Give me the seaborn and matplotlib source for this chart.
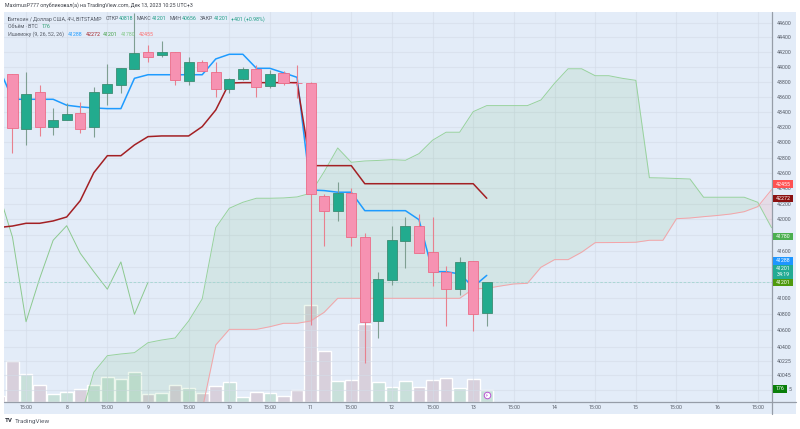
import numpy as np
import pandas as pd
import matplotlib
matplotlib.use('Agg')
import matplotlib.pyplot as plt
from matplotlib.lines import Line2D
from matplotlib.patches import Rectangle
from matplotlib.ticker import NullLocator
import seaborn as sns

# candles, 4h bars, index 0 is the first full one on screen
opens = [43902, 43180, 43663, 43207, 43291, 43384, 43199, 43657, 43764, 43977, 44207, 44163,
         44199, 43817, 44063, 43933, 43703, 43836, 43977, 43746, 43916, 43791, 43782, 42302,
         42104, 42337, 41780, 40720, 41234, 41728, 41915, 41581, 41335, 41121, 41474, 40818]
highs = [43902, 43933, 43760, 43458, 43524, 43537, 43729, 44037, 43990, 44733, 44298, 44355,
         44199, 44140, 44095, 44072, 43849, 44004, 44028, 43960, 43947, 44028, 43800, 42321,
         42487, 42405, 41830, 41335, 41915, 42027, 42069, 42035, 41404, 41525, 41474, 41201]
lows = [42857, 42966, 43084, 43097, 43291, 43128, 43075, 43494, 43657, 43969, 44063, 44136,
        43760, 43760, 43942, 43604, 43657, 43826, 43600, 43720, 43760, 43583, 40667, 41661,
        41980, 41661, 40195, 40510, 41167, 41378, 41568, 41158, 40658, 41046, 40597, 40656]
closes = [43186, 43644, 43199, 43291, 43375, 43173, 43663, 43769, 43983, 44186, 44140, 44199,
          43826, 44063, 43942, 43711, 43836, 43969, 43737, 43906, 43791, 43782, 42324, 42112,
          42337, 41772, 40708, 41247, 41733, 41919, 41568, 41335, 41114, 41458, 40800, 41201]

# volume starts one bar before the first candle (BTC)
volume = [85, 578, 390, 240, 108, 141, 179, 240, 357, 324, 427, 117, 131, 235, 202, 131, 226, 286,
          70, 141, 123, 85, 173, 1368, 719, 296, 314, 1100, 278, 212, 296, 212, 310, 338, 197, 324, 176]

# ichimoku lines, tenkan / kijun / chikou start at bar -1, the cloud at bar 5
tenkan = [43991, 43569, 43569, 43569, 43569, 43490, 43468, 43454, 43445, 43445, 43849, 43897, 43897,
          43897, 43897, 43897, 44109, 44172, 44172, 43983, 43983, 43923, 43862, 42380, 42371, 42350,
          42350, 42112, 42112, 42112, 42112, 41996, 41335, 41335, 41306, 41143, 41288]
kijun = [41896, 41915, 41950, 41950, 41980, 42031, 42241, 42603, 42825, 42825, 42966, 43075, 43084,
         43084, 43084, 43207, 43427, 43786, 43791, 43791, 43791, 43791, 43791, 42695, 42695, 42695,
         42695, 42460, 42460, 42460, 42460, 42460, 42460, 42460, 42460, 42460, 42272]
chikou = [42337, 41772, 40708, 41247, 41733, 41919, 41568, 41335, 41114, 41458, 40800, 41201]
senkou_a = [39520, 40085, 40288, 40309, 40325, 40448, 40481, 40506, 40717, 40992, 41894, 42143, 42220,
            42272, 42272, 42276, 42289, 42337, 42616, 42926, 42739, 42756, 42763, 42773, 42765, 42852,
            43028, 43133, 43133, 43405, 43485, 43485, 43485, 43485, 43560, 43782, 43977, 43977, 43884,
            43884, 43849, 43822, 42538, 42534, 42528, 42521, 42285, 42285, 42285, 42285, 42220, 41899, 41780]
senkou_b = [39500, 39500, 39500, 39500, 39500, 39500, 39500, 39500, 39500, 39628, 40420, 40613, 40613,
            40613, 40646, 40688, 40688, 40717, 40825, 41000, 41000, 41000, 41000, 41000, 41000, 41000,
            41000, 41000, 41000, 41117, 41125, 41154, 41180, 41188, 41391, 41487, 41487, 41581, 41703,
            41704, 41705, 41708, 41733, 41733, 42009, 42018, 42035, 42050, 42069, 42099, 42164, 42379, 42455]

price_ticks = [44600, 44400, 44200, 44000, 43800, 43600, 43400, 43200, 43000, 42800, 42600, 42400, 42200,
               42000, 41800, 41600, 41400, 41200, 41000, 40800, 40600, 40400, 40225, 40045, 39865]
# 41800, 41400, 41200 and 39865 sit under the price tags
hidden_ticks = [41800, 41400, 41200, 39865]
time_labels = ['15:00', '8', '15:00', '9', '15:00', '10', '15:00', '11', '15:00', '12', '15:00', '13',
               '15:00', '14', '15:00', '15', '15:00', '16', '15:00']

sns.set_theme(style='white')
plt.rcParams['font.family'] = ['Roboto', 'DejaVu Sans']

W, H = 800, 429
BG = '#E3ECF8'
GRID = '#D4DCE8'
TXT = '#555B66'
UP, UP_EDGE, UP_WICK = '#22AB8E', '#3C8C73', '#7F9F92'
DOWN, DOWN_EDGE, DOWN_WICK = '#F692B2', '#EC6C88', '#E8808E'
FS = 3.8

fig = plt.figure(figsize=(8, 4.29), dpi=100, facecolor='white')


def px_x(x):
    return x / W


def px_y(y):
    return 1 - y / H


def txt(x, y, s, color=TXT, size=FS, ha='left', **kw):
    fig.text(px_x(x), px_y(y), s, color=color, fontsize=size, ha=ha, va='center', zorder=20, **kw)


def tag(y, s, color, x1=793, h=7.2):
    fig.add_artist(Rectangle((px_x(773), px_y(y + h / 2)), (x1 - 773) / W, h / H, transform=fig.transFigure,
                             facecolor=color, edgecolor='none', zorder=15))
    txt((773 + x1) / 2, y, s, color='white', ha='center')


# light blue panel behind everything
fig.add_artist(Rectangle((px_x(4), px_y(414)), 792 / W, 402 / H, transform=fig.transFigure,
                         facecolor=BG, edgecolor='none', zorder=-5))

pos = [px_x(4), px_y(402), 768 / W, 390 / H]
ax_vol = fig.add_axes(pos, facecolor='none', zorder=1)
ax = fig.add_axes(pos, facecolor='none', zorder=2)

idx = np.arange(len(opens))
xlim = (-0.627, 56.05)

# volume
vol_idx = np.arange(-1, len(volume) - 1)
vol_dir = ['down'] + ['up' if c >= o else 'down' for o, c in zip(opens, closes)]
vol_df = pd.DataFrame({'idx': vol_idx, 'volume': volume, 'dir': vol_dir})
sns.barplot(data=vol_df, x='idx', y='volume', hue='dir', palette={'up': '#C8E0DA', 'down': '#D8D0DC'},
            native_scale=True, dodge=False, width=0.94, saturation=1, legend=False, ax=ax_vol)
ax_vol.set_xlim(xlim)
ax_vol.set_ylim(0, 5500)
ax_vol.axis('off')

# price axes
ax.set_yscale('log')
ax.set_xlim(xlim)
ax.set_ylim(39722, 44746)
ax.yaxis.tick_right()
ax.set_yticks(price_ticks)
ax.set_yticklabels(['' if t in hidden_ticks else str(t) for t in price_ticks], fontsize=FS, color=TXT)
ax.yaxis.set_minor_locator(NullLocator())
ax.set_xticks(np.arange(1, 56, 3))
ax.set_xticklabels(time_labels, fontsize=FS, color=TXT)
ax.tick_params(axis='both', length=0)
ax.tick_params(axis='x', pad=2.2)
ax.tick_params(axis='y', pad=3.2)
ax.grid(True, color=GRID, linewidth=0.8, alpha=0.6)
ax.set_axisbelow(True)
ax.set_xlabel('')
for name, spine in ax.spines.items():
    spine.set_visible(False)

# cloud
cloud_idx = np.arange(5, 5 + len(senkou_a))
a = np.array(senkou_a, dtype=float)
b = np.array(senkou_b, dtype=float)
ax.fill_between(cloud_idx, a, b, where=a >= b, interpolate=True, color='#4CAF50', alpha=0.1, linewidth=0, zorder=2)
ax.fill_between(cloud_idx, a, b, where=a <= b, interpolate=True, color='#FF5252', alpha=0.1, linewidth=0, zorder=2)
sns.lineplot(x=cloud_idx, y=a, color='#98D29D', linewidth=0.7, ax=ax, zorder=3, errorbar=None)
sns.lineplot(x=cloud_idx, y=b, color='#F5A3A8', linewidth=0.7, ax=ax, zorder=3, errorbar=None)
sns.lineplot(x=np.arange(-1, len(chikou) - 1), y=chikou, color='#8CC98F', linewidth=0.7, ax=ax, zorder=3, errorbar=None)

# last price
ax.axhline(closes[-1], color='#A4D6D2', linewidth=0.6, linestyle=(0, (3, 2)), zorder=3)

line_idx = np.arange(-1, len(tenkan) - 1)
sns.lineplot(x=line_idx, y=tenkan, color='#1E9BFF', linewidth=1.1, ax=ax, zorder=4, errorbar=None)
sns.lineplot(x=line_idx, y=kijun, color='#A32024', linewidth=1.1, ax=ax, zorder=4, errorbar=None)

# candles
o = np.array(opens, dtype=float)
c = np.array(closes, dtype=float)
is_up = c >= o
ax.vlines(idx, lows, highs, colors=[UP_WICK if u else DOWN_WICK for u in is_up], linewidth=0.8, zorder=5)
ax.bar(idx, np.abs(c - o), bottom=np.minimum(o, c), width=0.74,
       color=[UP if u else DOWN for u in is_up],
       edgecolor=[UP_EDGE if u else DOWN_EDGE for u in is_up], linewidth=0.6, zorder=6)
ax.set_xlim(xlim)
ax.set_ylim(39722, 44746)

# lightning badge on the last bar
ax_vol.scatter([vol_idx[-1]], [95], s=22, facecolor='white', edgecolor='#BA55D3', linewidth=0.7, zorder=5, clip_on=False)
ax_vol.text(vol_idx[-1], 95, '\u26a1', fontsize=3.6, color='#BA55D3', ha='center', va='center', zorder=6,
            family='DejaVu Sans')

# axis lines
fig.add_artist(Line2D([px_x(772.3)] * 2, [px_y(12), px_y(414)], color='#969DA8', linewidth=0.9, zorder=10))
fig.add_artist(Line2D([px_x(4), px_x(796)], [px_y(402)] * 2, color='#969DA8', linewidth=0.9, zorder=10))

# price tags on the scale
tag(184, '42455', '#FF5252')
tag(198.7, '42272', '#8B1010')
tag(236.3, '41780', '#4CAF50')
tag(261, '41288', '#1E96FF')
fig.add_artist(Rectangle((px_x(773), px_y(279)), 20 / W, 14.5 / H, transform=fig.transFigure,
                         facecolor='#22AB94', edgecolor='none', zorder=15))
txt(783, 268.5, '41201', color='white', ha='center')
txt(783, 275, '34:19', color='white', ha='center')
tag(282.4, '41201', '#4F9A0E')
tag(389, '176', '#0A7F0A', x1=787)
# last digit of the 39865 tick sticks out from under the volume tag
txt(788.5, 389.5, '5')

# header
txt(5, 5.5, 'MaximusP777 опубликовал(а) на TradingView.com, Дек 13, 2023 10:25 UTC+3', color='#3C4048')
txt(8, 19, 'Биткоин / Доллар США, 4Ч, BITSTAMP')
txt(106, 19, 'ОТКР')
txt(119, 19, '40818', color='#1F9D84')
txt(137, 19, 'МАКС')
txt(152, 19, '41201', color='#1F9D84')
txt(170, 19, 'МИН')
txt(182, 19, '40656', color='#1F9D84')
txt(200, 19, 'ЗАКР')
txt(214, 19, '41201', color='#1F9D84')
txt(231, 19, '+401 (+0.98%)', color='#1F9D84')
txt(8, 26.5, 'Объём · BTC')
txt(42, 26.5, '176', color='#2A9D6E')
txt(8, 34, 'Ишимоку (9, 26, 52, 26)')
txt(68, 34, '41288', color='#1E9BFF')
txt(86, 34, '42272', color='#A32024')
txt(103, 34, '41201', color='#43A047')
txt(121, 34, '41780', color='#81C784')
txt(139, 34, '42455', color='#FF6B6B')

# footer
txt(5, 421, 'TV', color='#2A2E39', size=4.4, fontweight='bold')
txt(15, 421, 'TradingView', color='#555B66', size=4.6)

fig.savefig('out.png', dpi=100)
